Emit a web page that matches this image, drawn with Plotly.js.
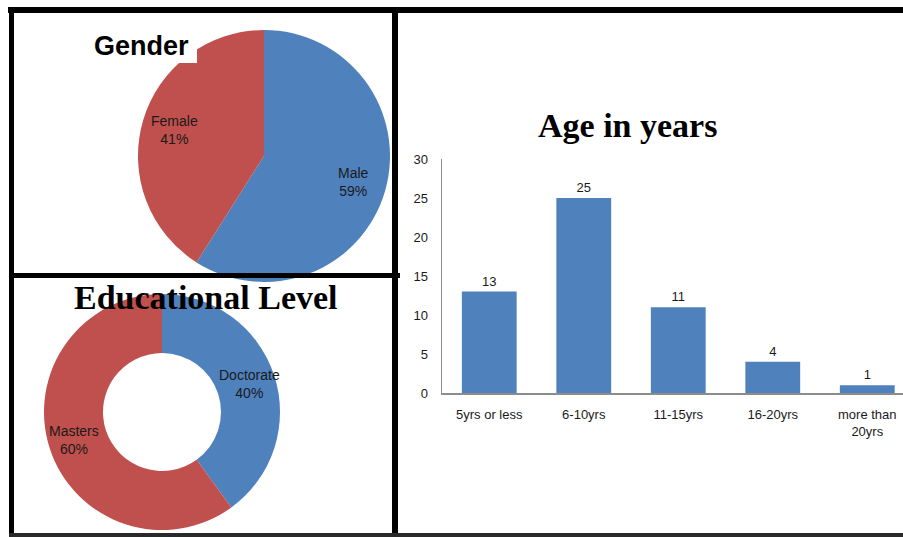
<!DOCTYPE html>
<html>
<head>
<meta charset="utf-8">
<script src="https://cdn.plot.ly/plotly-3.0.1.min.js"></script>
<style>
  html, body { margin: 0; padding: 0; background: #fff; }
  #chart { width: 903px; height: 537px; }
</style>
</head>
<body>
<div id="chart"></div>
<script>
// ---- data ----
const genderLabels = ['Male', 'Female'];
const genderValues = [59, 41];
const eduLabels = ['Doctorate', 'Masters'];
const eduValues = [40, 60];
const ageCategories = ['5yrs or less', '6-10yrs', '11-15yrs', '16-20yrs', 'more than<br>20yrs'];
const ageCounts = [13, 25, 11, 4, 1];
const yTicks = [0, 5, 10, 15, 20, 25, 30];

// ---- styling ----
const W = 903, H = 537;
const BLUE = '#4F81BD', RED = '#C0504D';
const px = v => v / W;            // x pixel -> paper
const py = v => 1 - v / H;        // y pixel -> paper
const LABEL_FONT = {family: 'Liberation Sans, Arial, sans-serif', size: 14, color: '#1a1a1a'};
const TICK_FONT = {family: 'Liberation Sans, Arial, sans-serif', size: 13, color: '#1a1a1a'};

// pie geometry (pixels)
const genderPie = {cx: 264, cy: 156, r: 126, labelR: 0.74};
const eduPie = {cx: 162, cy: 412, r: 118, labelR: 0.78};

function pieDomain(g) {
  return {x: [px(g.cx - g.r), px(g.cx + g.r)], y: [py(g.cy + g.r), py(g.cy - g.r)]};
}

// labels positioned at each slice's mid-angle (clockwise from 12 o'clock), derived from the values
function sliceLabels(labels, values, g) {
  const total = values.reduce((a, b) => a + b, 0);
  let cum = 0;
  return labels.map((lab, i) => {
    const frac = values[i] / total;
    const mid = (cum + frac / 2) * 2 * Math.PI;
    cum += frac;
    const x = g.cx + Math.sin(mid) * g.r * g.labelR;
    const y = g.cy - Math.cos(mid) * g.r * g.labelR;
    return {
      text: lab + '<br>' + Math.round(frac * 100) + '%',
      xref: 'paper', yref: 'paper', x: px(x), y: py(y),
      xanchor: 'center', yanchor: 'middle', showarrow: false,
      font: LABEL_FONT
    };
  });
}

const traces = [
  {
    type: 'pie',
    labels: genderLabels,
    values: genderValues,
    sort: false,
    direction: 'clockwise',
    rotation: 0,
    marker: {colors: [BLUE, RED], line: {width: 0}},
    textinfo: 'none',
    domain: pieDomain(genderPie),
    hoverinfo: 'skip'
  },
  {
    type: 'pie',
    labels: eduLabels,
    values: eduValues,
    sort: false,
    direction: 'clockwise',
    rotation: 0,
    hole: 0.5,
    marker: {colors: [BLUE, RED], line: {width: 0}},
    textinfo: 'none',
    domain: pieDomain(eduPie),
    hoverinfo: 'skip'
  },
  {
    type: 'bar',
    x: ageCategories,
    y: ageCounts,
    text: ageCounts.map(String),
    textposition: 'outside',
    textfont: TICK_FONT,
    cliponaxis: false,
    marker: {color: BLUE},
    hoverinfo: 'skip'
  }
];

const rect = (x0, y0, x1, y1, color) => ({
  type: 'rect', xref: 'paper', yref: 'paper', layer: 'above',
  x0: px(x0), x1: px(x1), y0: py(y1), y1: py(y0),
  fillcolor: color || '#000', line: {width: 0}
});

const layout = {
  width: W, height: H,
  margin: {l: 0, r: 0, t: 0, b: 0},
  paper_bgcolor: '#fff',
  plot_bgcolor: '#fff',
  showlegend: false,
  bargap: 0.42,
  xaxis: {
    domain: [px(442), 1],
    range: [-0.5, 4.378],
    showgrid: false, zeroline: false,
    showline: true, linecolor: '#8c8c8c', linewidth: 1.5,
    ticks: '', ticklabelstandoff: 9,
    tickfont: TICK_FONT,
    fixedrange: true
  },
  yaxis: {
    domain: [py(393), py(159)],
    range: [0, 30],
    tickvals: yTicks,
    showgrid: false, zeroline: false,
    showline: true, linecolor: '#8c8c8c', linewidth: 1.5,
    ticks: '', ticklabelstandoff: 10,
    tickfont: TICK_FONT,
    fixedrange: true
  },
  shapes: [
    // white box behind the Gender title
    rect(90, 20, 197, 63, '#fff'),
    // frame
    rect(8, 7, 903, 13),
    rect(9, 7, 14, 533),
    rect(392, 7, 398, 534),
    rect(9, 273, 400, 278),
    rect(9, 533, 903, 537, '#2a2a2a')
  ],
  annotations: [
    {text: '<b>Gender</b>', xref: 'paper', yref: 'paper', x: px(141), y: py(46),
     xanchor: 'center', yanchor: 'middle', showarrow: false,
     font: {family: 'Liberation Sans, Arial, sans-serif', size: 27, color: '#000'}},
    {text: '<b>Educational Level</b>', xref: 'paper', yref: 'paper', x: px(206), y: py(297),
     xanchor: 'center', yanchor: 'middle', showarrow: false,
     font: {family: 'Liberation Serif, Times New Roman, serif', size: 34, color: '#000'}},
    {text: '<b>Age in years</b>', xref: 'paper', yref: 'paper', x: px(627), y: py(126),
     xanchor: 'center', yanchor: 'middle', showarrow: false,
     font: {family: 'Liberation Serif, Times New Roman, serif', size: 34, color: '#000'}}
  ].concat(sliceLabels(genderLabels, genderValues, genderPie))
   .concat(sliceLabels(eduLabels, eduValues, eduPie))
};

Plotly.newPlot('chart', traces, layout, {staticPlot: true, displayModeBar: false});
</script>
</body>
</html>
